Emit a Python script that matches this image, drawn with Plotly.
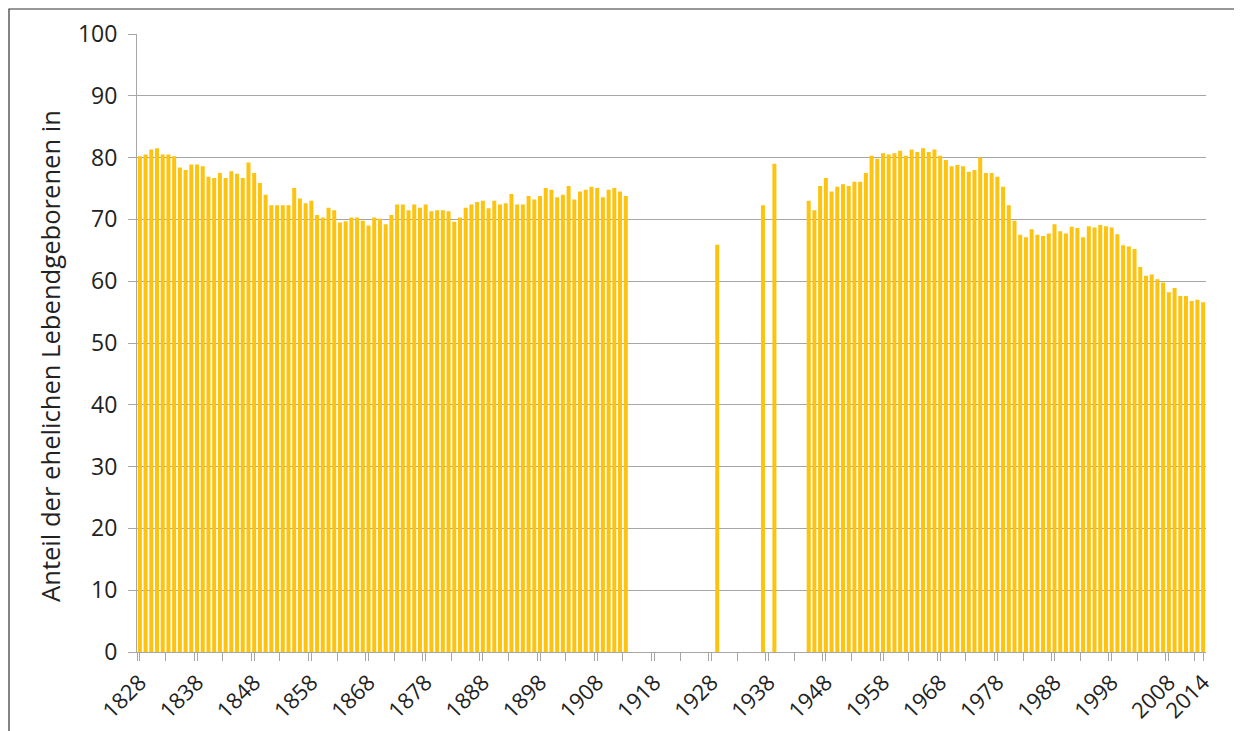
import plotly.graph_objects as go

# Anteil der ehelichen Lebendgeborenen (%) by year
start_a = 1828
values_a = [  # 1828-1913
    80.2, 80.5, 81.3, 81.5, 80.5, 80.5, 80.2, 78.4, 78.0, 78.9,
    78.9, 78.6, 76.9, 76.7, 77.5, 76.7, 77.8, 77.4, 76.7, 79.2,
    77.5, 75.9, 74.0, 72.3, 72.3, 72.3, 72.3, 75.1, 73.4, 72.6,
    73.0, 70.7, 70.3, 71.9, 71.5, 69.5, 69.7, 70.3, 70.3, 69.8,
    69.0, 70.3, 70.1, 69.2, 70.7, 72.4, 72.4, 71.5, 72.4, 71.9,
    72.4, 71.3, 71.5, 71.5, 71.3, 69.6, 70.3, 71.9, 72.4, 72.8,
    73.0, 71.8, 73.0, 72.4, 72.6, 74.1, 72.4, 72.4, 73.8, 73.2,
    73.8, 75.1, 74.8, 73.6, 74.0, 75.4, 73.2, 74.5, 74.8, 75.3,
    75.1, 73.6, 74.8, 75.1, 74.5, 73.8,
]
single_years = [1929, 1937, 1939]
single_values = [65.9, 72.3, 79.0]
start_b = 1945
values_b = [  # 1945-2014
    73.0, 71.5, 75.4, 76.7, 74.5, 75.3, 75.7, 75.4, 76.1, 76.1,
    77.5, 80.3, 79.8, 80.7, 80.5, 80.7, 81.1, 80.3, 81.3, 80.9,
    81.5, 80.9, 81.3, 80.3, 79.6, 78.6, 78.8, 78.6, 77.7, 78.0,
    80.0, 77.5, 77.5, 76.9, 75.3, 72.3, 69.8, 67.5, 67.1, 68.4,
    67.5, 67.3, 67.7, 69.2, 68.1, 67.7, 68.8, 68.6, 67.1, 68.9,
    68.7, 69.1, 68.9, 68.7, 67.6, 65.8, 65.6, 65.2, 62.3, 60.9,
    61.1, 60.3, 59.8, 58.2, 58.9, 57.6, 57.6, 56.8, 57.0, 56.6,
]
tick_labels = [1828, 1838, 1848, 1858, 1868, 1878, 1888, 1898, 1908, 1918,
               1928, 1938, 1948, 1958, 1968, 1978, 1988, 1998, 2008, 2014]
y_title = "Anteil der ehelichen Lebendgeborenen in"

years = ([start_a + i for i in range(len(values_a))] + single_years
         + [start_b + i for i in range(len(values_b))])
values = values_a + single_values + values_b

BAR = "#FDC30F"
GRID = "#A6A6A6"
FONT = "Open Sans"

W, H = 1234, 723
L, T, R, B = 129, 26, 36, 79
PW, PH = W - L - R, H - T - B

fig = go.Figure(go.Bar(x=years, y=values, marker=dict(color=BAR, line=dict(width=0)),
                       hoverinfo="x+y"))

fig.update_layout(
    width=W, height=H,
    margin=dict(l=L, r=R, t=T, b=B, autoexpand=False),
    plot_bgcolor="white", paper_bgcolor="white",
    bargap=0.3, showlegend=False,
    font=dict(family=FONT, color="#222222", size=22),
)
fig.update_xaxes(
    automargin=False,
    range=[1827.5, 2014.5], tickmode="array", tickvals=tick_labels,
    ticktext=[str(t) for t in tick_labels], tickangle=-45,
    ticks="outside", ticklen=8, tickcolor=GRID, tickwidth=1,
    minor=dict(tickmode="linear", tick0=1827.5, dtick=5, ticks="outside",
               ticklen=8, tickcolor=GRID, tickwidth=1, showgrid=False),
    showline=True, linecolor=GRID, linewidth=1, showgrid=False, zeroline=False,
    tickfont=dict(size=22, family=FONT),
)
fig.update_yaxes(
    automargin=False,
    range=[0, 100], tickmode="linear", tick0=0, dtick=10,
    ticks="outside", ticklen=8, tickcolor=GRID, tickwidth=1, ticklabelstandoff=6,
    showline=True, linecolor=GRID, linewidth=1,
    showgrid=True, gridcolor=GRID, gridwidth=1, zeroline=False,
    tickfont=dict(size=23, family=FONT),
)
# y-axis title, placed slightly below the plot centre as in the original
fig.add_annotation(text=y_title, textangle=-90, xref="paper", yref="paper",
                   x=(42 - L) / PW, y=(PH + T - 348) / PH,
                   xanchor="center", yanchor="middle", showarrow=False,
                   font=dict(size=25.6, family=FONT, color="#222222"))
# outer frame of the figure (right/bottom edges cut off in the original)
fig.add_shape(type="rect", xref="paper", yref="paper",
              x0=(1 - L) / PW, x1=(W + 20 - L) / PW,
              y0=-(B + 20) / PH, y1=(PH + T - 1) / PH,
              line=dict(color="#333333", width=1.2), layer="above")

fig.write_html("out.html")
